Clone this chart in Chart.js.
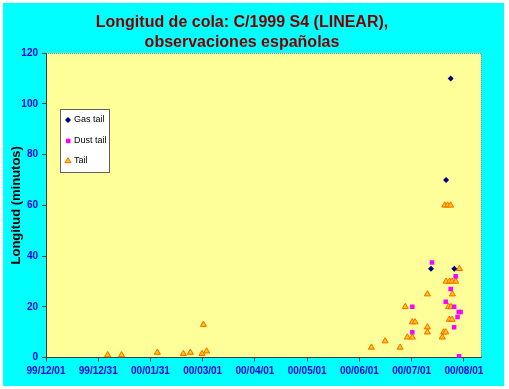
<!DOCTYPE html>
<html><head><meta charset="utf-8">
<script src="https://cdn.jsdelivr.net/npm/chart.js@4.4.0/dist/chart.umd.min.js"></script>
<style>
html,body{margin:0;padding:0;background:#fff;}
#wrap{position:absolute;left:3px;top:3px;width:501px;height:383px;background:#00FFFF;}
canvas{display:block;}
</style></head><body>
<div id="wrap"><canvas id="c" width="501" height="383"></canvas></div>
<script>
// Days counted from 1999-12-01
const titleLines = ['Longitud de cola: C/1999 S4 (LINEAR),', 'observaciones españolas'];
const yTitle = 'Longitud (minutos)';
const tickDays = [0, 30.5, 61, 91.5, 122, 152.5, 183, 213.5, 244];
const tickLabels = ['99/12/01', '99/12/31', '00/01/31', '00/03/01', '00/04/01', '00/05/01', '00/06/01', '00/07/01', '00/08/01'];

const gasDay = [236.3, 233.6, 224.8, 238.4];
const gasLen = [110, 70, 35, 35];

const dustDay = [225.4, 239.2, 236.3, 233.4, 213.9, 238.3, 241.0, 242.1, 240.3, 238.3, 213.9, 241.2];
const dustLen = [37.5, 32, 27, 22, 20, 20, 18, 18, 16, 12, 10, 0.5];

const tailDay = [36.0, 44.1, 65.0, 80.2, 84.3, 91.1, 91.9, 93.8,
  190.0, 198.0, 206.8, 209.8, 211.0, 213.9, 213.9, 215.5,
  222.7, 222.7, 222.7, 231.4, 232.2, 233.4, 232.8, 234.5, 236.3,
  233.6, 235.7, 237.1, 239.2, 237.3, 235.1, 236.5, 235.5, 237.1, 241.4];
const tailLen = [1, 1, 2, 1.5, 2, 1.5, 13, 2.5,
  4, 6.5, 4, 20, 8, 8, 14, 14,
  25, 12, 10, 8, 10, 10, 60, 60, 60,
  30, 30, 30, 30, 25, 20, 20, 15, 15, 35];

const seriesNames = ['Gas tail', 'Dust tail', 'Tail'];

const pts = (xs, ys) => xs.map((x, i) => ({x: x, y: ys[i]}));
const FONT = "'Liberation Sans', Arial, sans-serif";

const plotBg = {
  id: 'plotBg',
  beforeDraw(chart) {
    const {ctx, chartArea: a} = chart;
    ctx.save();
    ctx.fillStyle = '#FFFF99';
    ctx.fillRect(a.left, a.top, a.right - a.left, a.bottom - a.top);
    ctx.strokeStyle = '#8a8a8a';
    ctx.lineWidth = 1;
    ctx.setLineDash([1, 1]);
    ctx.beginPath();
    ctx.moveTo(a.left, a.top + 0.5);
    ctx.lineTo(a.right + 0.5, a.top + 0.5);
    ctx.lineTo(a.right + 0.5, a.bottom);
    ctx.stroke();
    ctx.restore();
  }
};

function marker(ctx, kind, x, y) {
  ctx.save();
  ctx.lineWidth = 1;
  if (kind === 0) {
    ctx.fillStyle = '#000080';
    ctx.beginPath();
    ctx.moveTo(x, y - 3); ctx.lineTo(x + 3, y); ctx.lineTo(x, y + 3); ctx.lineTo(x - 3, y); ctx.closePath();
    ctx.fill();
  } else if (kind === 1) {
    ctx.fillStyle = '#FF00FF';
    ctx.fillRect(x - 2, y - 2, 4.5, 4.5);
  } else {
    ctx.fillStyle = '#FFCC00';
    ctx.strokeStyle = '#FF6600';
    ctx.beginPath();
    ctx.moveTo(x, y - 3); ctx.lineTo(x + 3, y + 2); ctx.lineTo(x - 3, y + 2); ctx.closePath();
    ctx.fill(); ctx.stroke();
  }
  ctx.restore();
}

const boxLegend = {
  id: 'boxLegend',
  afterDraw(chart) {
    const {ctx, chartArea: a} = chart;
    const bx = a.left + 14, by = a.top + 56, bw = 49, bh = 63;
    ctx.save();
    ctx.fillStyle = '#FFFFFF';
    ctx.fillRect(bx, by, bw, bh);
    ctx.strokeStyle = '#606060';
    ctx.lineWidth = 1;
    ctx.strokeRect(bx + 0.5, by + 0.5, bw, bh);
    ctx.font = '9px ' + FONT;
    ctx.fillStyle = '#000000';
    ctx.textBaseline = 'middle';
    ctx.textAlign = 'left';
    const rows = [11, 31.7, 51.7];
    seriesNames.forEach((n, i) => {
      marker(ctx, i, bx + 8, by + rows[i]);
      ctx.fillText(n, bx + 14, by + rows[i]);
    });
    ctx.restore();
  }
};

new Chart(document.getElementById('c'), {
  type: 'scatter',
  data: {
    datasets: [
      {label: seriesNames[0], data: pts(gasDay, gasLen), pointStyle: 'rectRot', radius: 3,
       backgroundColor: '#000080', borderColor: '#000080', borderWidth: 0},
      {label: seriesNames[1], data: pts(dustDay, dustLen), pointStyle: 'rect', radius: 3.2,
       backgroundColor: '#FF00FF', borderColor: '#FF00FF', borderWidth: 0},
      {label: seriesNames[2], data: pts(tailDay, tailLen), pointStyle: 'triangle', radius: 3.5,
       backgroundColor: '#FFCC00', borderColor: '#FF6600', borderWidth: 1}
    ]
  },
  options: {
    responsive: false,
    animation: false,
    devicePixelRatio: 1,
    layout: {padding: {left: 0, right: 23, top: 0, bottom: 0}},
    plugins: {
      legend: {display: false},
      tooltip: {enabled: false},
      title: {
        display: true, text: titleLines, color: '#800000',
        font: {family: FONT, size: 16, weight: 'bold', lineHeight: 1.25},
        padding: {top: 10, bottom: 0}
      }
    },
    scales: {
      x: {
        type: 'linear', min: 0, max: 254,
        afterBuildTicks(scale) { scale.ticks = tickDays.map(v => ({value: v})); },
        afterFit(scale) { scale.height = 28.4; },
        ticks: {
          autoSkip: false, maxRotation: 0, padding: 4, color: '#0000DD',
          font: {family: FONT, size: 10, weight: 'bold'},
          callback: (v, i) => tickLabels[i]
        },
        grid: {drawOnChartArea: false, drawTicks: true, tickLength: 4, color: '#404040'},
        border: {display: true, color: '#404040'}
      },
      y: {
        min: 0, max: 120,
        afterFit(scale) { scale.width = 43; },
        ticks: {
          stepSize: 20, padding: 4, color: '#0000DD',
          font: {family: FONT, size: 10, weight: 'bold'}
        },
        grid: {drawOnChartArea: false, drawTicks: true, tickLength: 4, color: '#404040'},
        border: {display: true, color: '#404040'},
        title: {
          display: true, text: yTitle, color: '#000000',
          font: {family: FONT, size: 13, weight: 'bold'},
          padding: {top: 6, bottom: 0}
        }
      }
    }
  },
  plugins: [plotBg, boxLegend]
});
</script>
</body></html>
